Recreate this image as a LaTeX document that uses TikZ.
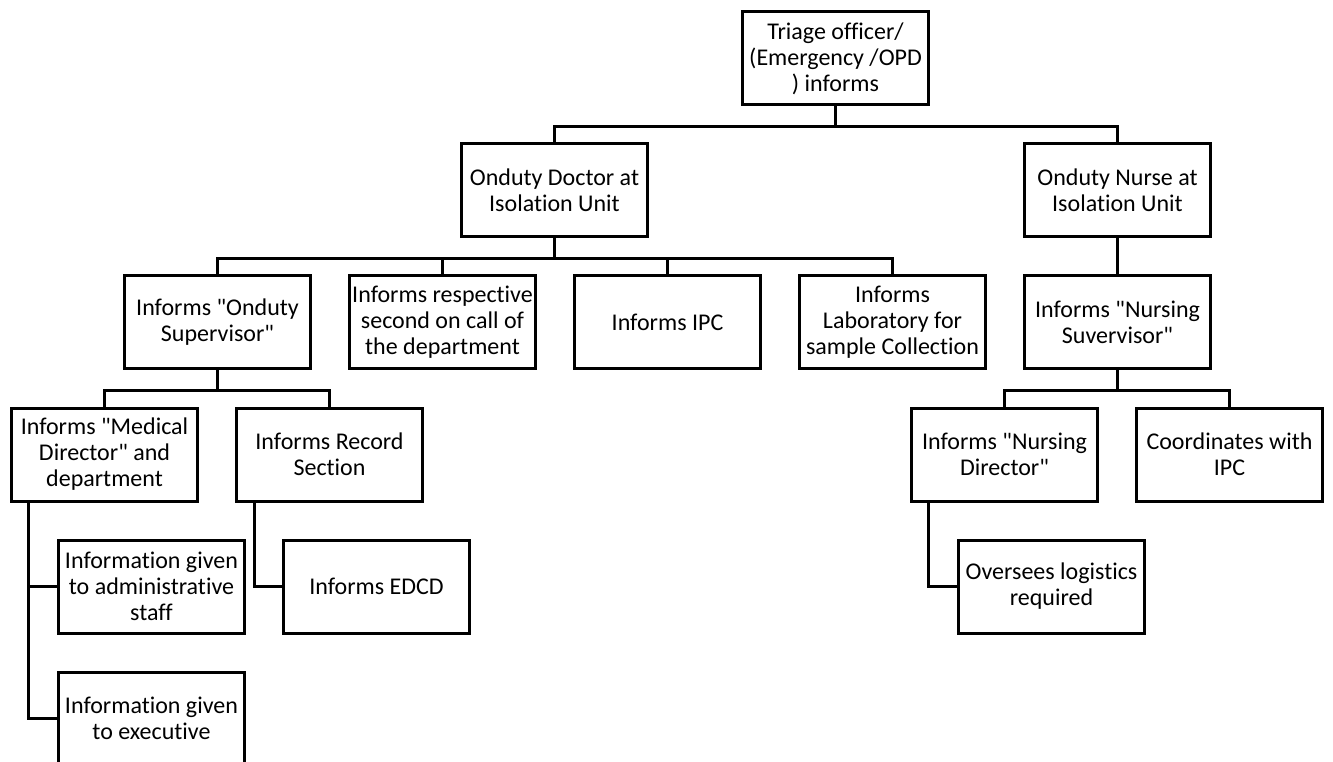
\documentclass[tikz,border=0pt]{standalone}
\usepackage{fontspec}
\setmainfont{Carlito}[Ligatures={TeXOff, NoCommon}]
\usepackage{tikz}
\usetikzlibrary{positioning}
\tikzset{
  bloc/.style={rectangle, draw=black, line width=2.25pt, fill=white,
    font=\fontsize{18pt}{19.5pt}\selectfont, align=center,
    minimum width=140pt, minimum height=69.75pt, inner sep=1pt},
  lien/.style={line width=2.25pt, color=black}
}
\begin{document}
\begin{tikzpicture}[x=0.75pt, y=-0.75pt]
    \useasboundingbox (0,0) rectangle (1333,762);
    % Niveau 1 et 2
    \node[bloc] (triage) at (835.5, 58.5)  {Triage officer/\\(Emergency /OPD\\) informs};
    \node[bloc] (doctor) at (554.5, 190.5) {Onduty Doctor at\\Isolation Unit};
    \node[bloc] (nurse)  at (1117.5, 190.5) {Onduty Nurse at\\Isolation Unit};

    % Niveau 3
    \node[bloc] (supv)   at (217.5, 322.5)  {Informs "Onduty\\Supervisor"};
    \node[bloc] (second) at (442.5, 322.5)  {Informs respective\\second on call of\\the department};
    \node[bloc] (ipc)    at (667.5, 322.5)  {Informs IPC};
    \node[bloc] (lab)    at (892.5, 322.5)  {Informs\\Laboratory for\\sample Collection};
    \node[bloc] (nsupv)  at (1117.5, 322.5) {Informs "Nursing\\Suvervisor"};

    % Niveau 4
    \node[bloc] (meddir) at (104.5, 454.5)  {Informs "Medical\\Director" and\\department};
    \node[bloc] (record) at (329.5, 454.5)  {Informs Record\\Section};
    \node[bloc] (ndir)   at (1004.5, 454.5) {Informs "Nursing\\Director"};
    \node[bloc] (coord)  at (1229.5, 454.5) {Coordinates with\\IPC};

    % Niveau 5
    \node[bloc] (admin)  at (151.5, 586.5)  {Information given\\to administrative\\staff};
    \node[bloc] (edcd)   at (376.5, 586.5)  {Informs EDCD};
    \node[bloc] (logist) at (1051.5, 586.5) {Oversees logistics\\required};
    \node[bloc] (exec)   at (151.5, 718.5)  {Information given\\to executive};

    % Liens
    \foreach \n in {doctor, nurse} { \draw[lien] (triage.south) -- ++(0,20) -| (\n.north); }
    \foreach \n in {supv, second, ipc, lab} { \draw[lien] (doctor.south) -- ++(0,20) -| (\n.north); }
    \draw[lien] (nurse) -- (nsupv);
    \foreach \n in {meddir, record} { \draw[lien] (supv.south) -- ++(0,19.5) -| (\n.north); }
    \foreach \n in {ndir, coord} { \draw[lien] (nsupv.south) -- ++(0,19.5) -| (\n.north); }
    \foreach \n in {admin, exec} { \draw[lien] ([xshift=14.25pt]meddir.south west) |- (\n.west); }
    \draw[lien] ([xshift=15pt]record.south west) |- (edcd.west);
    \draw[lien] ([xshift=14.25pt]ndir.south west) |- (logist.west);
  \end{tikzpicture}
\end{document}
